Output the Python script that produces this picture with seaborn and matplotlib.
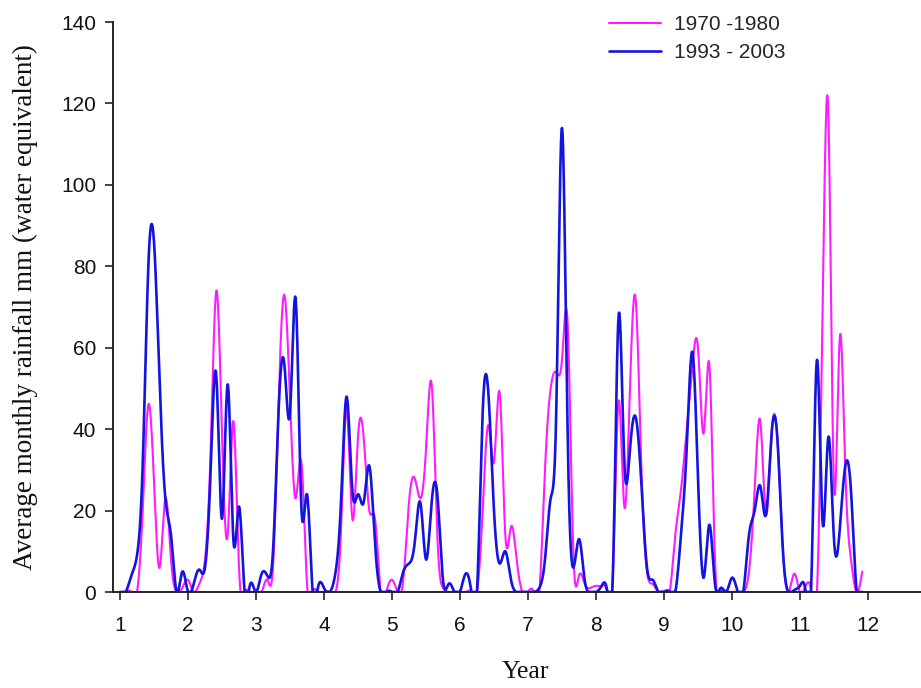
import numpy as np
import pandas as pd
import matplotlib
matplotlib.use("Agg")
import matplotlib.pyplot as plt
import seaborn as sns

# Average monthly rainfall (mm, water equivalent), 12 months per year, years 1-11
periods = ["1970 -1980", "1993 - 2003"]
colors = ["#ff1aff", "#1414e0"]
line_widths = [1.5, 1.9]

rain_1970_1980 = [
    0, 0, 0, 0, 20, 46, 27, 6, 23, 8, 0, 1,
    3, 0, 2, 8, 35, 74, 39, 14, 42, 6, 0, 0,
    0, 0, 3, 6, 47, 73, 47, 23, 32, 2, 0, 0,
    0, 0, 0, 15, 45, 18, 38, 38, 20, 18, 0, 0,
    3, 0, 3, 22, 28, 23, 35, 51, 14, 1, 0, 0,
    0, 0, 0, 0, 20, 41, 32, 49, 14, 16, 8, 0,
    0, 0, 0, 30, 50, 54, 57, 66, 10, 4, 2, 1,
    1.5, 1.5, 0, 5, 47, 21, 50, 72, 31, 5, 2, 0,
    0, 0, 14, 25, 40, 55, 60, 39, 56, 8, 0, 0,
    0, 0, 0, 5, 25, 42, 19, 39, 38, 10, 0, 4.5,
    0, 1.5, 0, 0, 70, 118, 26, 62, 30, 8, 0, 5,
]

rain_1993_2003 = [
    0, 0, 4, 9, 31, 80, 86, 51, 23, 14, 0, 5,
    0, 2, 5.5, 6, 30, 53, 18, 51, 13, 21, 0, 2,
    0, 4.5, 4, 10, 45, 56, 44, 72, 21, 24, 0, 1.5,
    1, 0, 4.5, 22, 48, 25, 24, 22, 31, 12, 0, 0,
    0, 0, 5, 7, 12, 22, 8, 22, 24, 3, 2, 0,
    0, 4.5, 0, 0, 44, 49, 20, 7, 10, 3, 0, 0,
    0, 0, 1, 8, 23, 45, 114, 39, 6, 13, 3, 0,
    0, 1.5, 0, 5, 68, 32, 35, 43, 27, 6, 3, 0,
    0, 0, 0, 14, 35, 59, 28, 3.5, 16.5, 2, 1, 0,
    3.5, 0, 0, 14, 20, 26, 19, 39, 38, 10, 0, 0.5,
    1.5, 0, 2, 57, 17, 38, 13, 15, 31, 25, 0, 0,
]

year_ticks = list(range(1, 13))
y_ticks = list(range(0, 141, 20))


def natural_spline(x, y, xs):
    """Natural cubic spline through (x, y), evaluated at xs."""
    x = np.asarray(x, float)
    y = np.asarray(y, float)
    n = len(x)
    h = np.diff(x)
    A = np.zeros((n, n))
    b = np.zeros(n)
    A[0, 0] = A[-1, -1] = 1.0
    for i in range(1, n - 1):
        A[i, i - 1] = h[i - 1]
        A[i, i] = 2 * (h[i - 1] + h[i])
        A[i, i + 1] = h[i]
        b[i] = 6 * ((y[i + 1] - y[i]) / h[i] - (y[i] - y[i - 1]) / h[i - 1])
    M = np.linalg.solve(A, b)
    idx = np.clip(np.searchsorted(x, xs) - 1, 0, n - 2)
    x0, x1 = x[idx], x[idx + 1]
    hh = x1 - x0
    t0 = x1 - xs
    t1 = xs - x0
    return (M[idx] * t0 ** 3 / (6 * hh) + M[idx + 1] * t1 ** 3 / (6 * hh)
            + (y[idx] / hh - M[idx] * hh / 6) * t0
            + (y[idx + 1] / hh - M[idx + 1] * hh / 6) * t1)


frames = []
for name, values in zip(periods, [rain_1970_1980, rain_1993_2003]):
    t = 1 + np.arange(len(values)) / 12.0
    fine = np.linspace(t[0], t[-1], 3000)
    smooth = np.clip(natural_spline(t, values, fine), 0, None)
    frames.append(pd.DataFrame({"Year": fine, "Rainfall": smooth, "Period": name}))
df = pd.concat(frames, ignore_index=True)

sns.set_theme(style="ticks")
plt.rcParams["font.family"] = ["Liberation Sans", "DejaVu Sans"]

fig = plt.figure(figsize=(9.21, 6.88), dpi=100)
ax = fig.add_axes([113 / 921, 96 / 688, 808 / 921, 570 / 688])

for name, col, lw in zip(periods, colors, line_widths):
    sns.lineplot(data=df[df["Period"] == name], x="Year", y="Rainfall",
                 color=col, linewidth=lw, label=name, sort=False,
                 estimator=None, ax=ax)

ax.set_xlim(0.897, 12.78)
ax.set_ylim(0, 140)
ax.set_xticks(year_ticks)
ax.set_yticks(y_ticks)
ax.tick_params(axis="both", direction="out", length=6, width=1.2,
               color="#222222", labelsize=15, labelcolor="#111111")
ax.tick_params(axis="x", pad=11)
ax.tick_params(axis="y", pad=6)
sns.despine(ax=ax)
for side in ["left", "bottom"]:
    ax.spines[side].set_linewidth(1.4)
    ax.spines[side].set_color("#222222")

serif = ["Liberation Serif", "DejaVu Serif"]
ax.set_xlabel("Year", family=serif, fontsize=18.5, color="#111111")
ax.set_ylabel("Average monthly rainfall mm (water equivalent)", family=serif,
              fontsize=19.5, color="#111111")
ax.xaxis.label.set_verticalalignment("center")
ax.xaxis.set_label_coords((525 - 113) / 808, (592 - 672) / 570)
ax.yaxis.label.set_verticalalignment("center")
ax.yaxis.set_label_coords((25 - 113) / 808, 0.5)

leg = ax.legend(loc="upper left", bbox_to_anchor=(609 / 921, 1 - 15 / 688),
                bbox_transform=fig.transFigure, frameon=False, fontsize=15,
                borderpad=0, borderaxespad=0, handlelength=2.5,
                handletextpad=0.62, labelspacing=0.44)

fig.savefig("out.png", dpi=100)
